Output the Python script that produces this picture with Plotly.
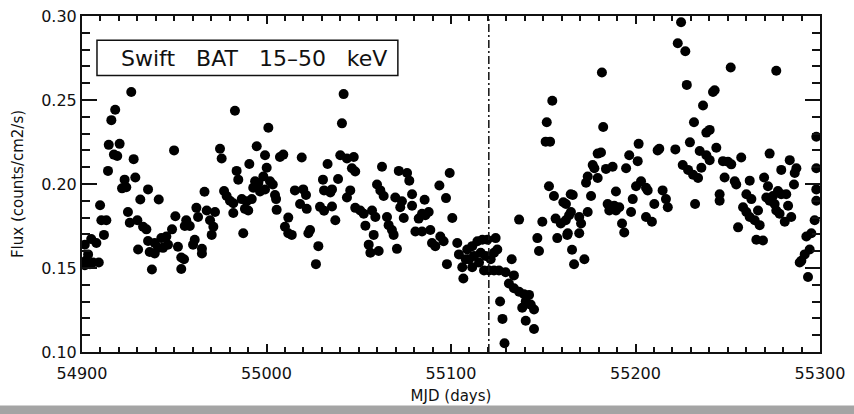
import plotly.graph_objects as go

# Swift/BAT 15-50 keV light curve (MJD, counts/cm2/s)
mjd = [
    54901.5, 54903.3, 54902.2, 54901.6, 54905.0, 54907.8, 54906.0, 54909.1, 54904.3, 54909.8,
    54910.5, 54913.2, 54911.9, 54914.1, 54914.5, 54915.9, 54918.0, 54917.3, 54919.1, 54920.4,
    54921.7, 54924.0, 54923.1, 54924.9, 54925.9, 54926.7, 54928.0, 54928.9, 54930.0, 54930.4,
    54931.6, 54933.1, 54934.9, 54935.8, 54935.8, 54936.7, 54937.9, 54939.4, 54939.4, 54941.2,
    54941.6, 54943.0, 54943.9, 54945.7, 54946.6, 54948.8, 54949.9, 54950.6, 54952.0, 54953.8,
    54955.3, 54953.8, 54955.7, 54956.5, 54958.4, 54960.2, 54961.1, 54962.0, 54962.9, 54965.0,
    54965.0, 54966.4,
    54967.6, 54969.4, 54970.3, 54971.2, 54972.1, 54974.8, 54975.7, 54977.0, 54978.4, 54980.2,
    54982.0, 54982.0, 54982.9, 54983.8, 54984.7, 54986.6, 54987.4, 54988.3, 54989.3, 54990.1,
    54990.7, 54992.0, 54992.8, 54993.8, 54995.6, 54994.7, 54996.5, 54998.3, 54999.2, 54999.2,
    55000.1, 55001.0, 55001.9, 55003.4, 55004.6, 55005.2, 55005.5, 55007.3, 55009.1, 55010.0,
    55011.8, 55011.8, 55013.7, 55015.4, 55018.2, 55019.1, 55019.9, 55021.4, 55021.8, 55022.7,
    55023.6, 55026.8, 55028.1, 55029.0, 55031.2, 55030.6, 55031.2, 55033.1,
    55035.5, 55034.6, 55035.5, 55037.3, 55038.8, 55040.0, 55043.6, 55047.3, 55040.9, 55041.8,
    55043.6, 55045.4, 55046.3, 55048.1, 55048.1, 55050.8, 55052.7, 55053.6, 55055.4, 55056.3,
    55057.2, 55059.0, 55058.1, 55059.9, 55061.7, 55063.5, 55060.8, 55062.6, 55065.3, 55066.2,
    55068.0, 55068.9, 55069.8, 55070.7, 55071.7, 55076.2, 55077.4, 55072.5, 55073.4, 55074.4,
    55078.9, 55078.9, 55080.7, 55084.3, 55088.8, 55082.5, 55084.3, 55086.1, 55087.9, 55085.7,
    55089.7, 55091.5, 55093.7, 55094.2, 55096.0, 55097.3, 55097.8, 55099.3,
    55100.7, 55103.4, 55104.3, 55106.1, 55106.7, 55108.0, 55108.8, 55109.8, 55111.5, 55111.5,
    55112.5, 55114.3, 55115.2, 55116.1, 55117.0, 55117.9, 55118.8, 55119.7, 55120.6, 55121.5,
    55123.3, 55123.3, 55124.2, 55125.1, 55126.0, 55126.6, 55127.9, 55129.0, 55129.6, 55131.4,
    55132.9, 55134.1, 55134.1, 55136.9, 55136.9, 55138.6, 55139.6, 55140.5, 55140.5, 55142.3,
    55143.2, 55145.0, 55145.0, 55146.8, 55147.7, 55149.5, 55151.3, 55153.7, 55151.9, 55153.1,
    55154.9, 55155.8, 55156.7, 55157.6, 55159.5, 55160.9, 55162.2, 55163.0, 55164.0, 55164.9,
    55165.6, 55166.7,
    55162.3, 55163.3, 55165.0, 55166.0, 55169.5, 55169.5, 55170.5, 55172.3, 55173.2, 55174.1,
    55174.1, 55175.9, 55176.8, 55177.7, 55179.5, 55181.3, 55179.5, 55181.8, 55182.5, 55184.0,
    55184.9, 55185.8, 55186.7, 55188.5, 55189.4, 55191.2, 55187.6, 55189.4, 55192.7, 55193.9,
    55194.9, 55196.6, 55197.6, 55198.5, 55200.3, 55203.0, 55205.7, 55206.6, 55201.2, 55201.7,
    55205.7, 55208.9, 55210.2, 55212.0, 55212.9, 55214.7, 55216.5, 55217.5, 55221.6, 55222.9,
    55224.7, 55225.6, 55227.0, 55227.8, 55229.5, 55228.5, 55231.2, 55231.7, 55232.3,
    55233.9, 55234.8, 55235.7, 55236.6, 55238.4, 55238.4, 55240.2, 55240.2, 55242.0, 55242.9,
    55243.8, 55245.6, 55245.6, 55247.4, 55250.1, 55251.9, 55248.3, 55251.6, 55253.8, 55254.6,
    55255.6, 55257.3, 55258.3, 55260.1, 55261.9, 55264.6, 55267.3, 55260.1, 55262.8, 55261.9,
    55265.5, 55269.1, 55266.4, 55269.7, 55271.8, 55270.9, 55272.7, 55274.5, 55275.4, 55277.2,
    55279.0, 55281.7, 55272.7, 55276.3, 55276.3, 55278.1, 55280.9, 55282.7, 55284.4, 55279.0,
    55283.6, 55285.9, 55286.3, 55287.2, 55289.0, 55289.9, 55291.7, 55292.6, 55294.4, 55295.3,
    55297.1, 55293.5, 55298.0, 55298.0, 55298.0, 55298.0,
]

flux = [
    0.1639, 0.1581, 0.1545, 0.1516, 0.1672, 0.1649, 0.1533, 0.1533, 0.1522, 0.1874,
    0.1784, 0.1784, 0.1697, 0.2078, 0.2233, 0.2380, 0.2442, 0.2175, 0.2167, 0.2239,
    0.1974, 0.1981, 0.2026, 0.1833, 0.1769, 0.2548, 0.2148, 0.2039, 0.1784, 0.1610,
    0.1908, 0.1746, 0.1730, 0.1968, 0.1661, 0.1595, 0.1491, 0.1649, 0.1587, 0.1620,
    0.1908, 0.1678, 0.1620, 0.1688, 0.1639, 0.1730, 0.2200, 0.1808, 0.1626, 0.1562,
    0.1552, 0.1494, 0.1750, 0.1784, 0.1750, 0.1639, 0.1668, 0.1858, 0.1804, 0.1614,
    0.1586, 0.1954,
    0.1842, 0.1784, 0.1697, 0.1746, 0.1833, 0.2210, 0.2152, 0.1958, 0.1929, 0.1900,
    0.1885, 0.1827, 0.2436, 0.2078, 0.2026, 0.1910, 0.1707, 0.1852, 0.1897, 0.1842,
    0.2119, 0.1910, 0.1978, 0.2016, 0.2007, 0.2225, 0.1955, 0.2045, 0.2171, 0.1968,
    0.2097, 0.2335, 0.2016, 0.1997, 0.1935, 0.1910, 0.1846, 0.2161, 0.2175, 0.1746,
    0.1800, 0.1707, 0.1697, 0.1962, 0.1881, 0.2158, 0.1968, 0.1935, 0.1852, 0.1707,
    0.1726, 0.1523, 0.1630, 0.1864, 0.1841, 0.2026, 0.1962, 0.2119,
    0.1866, 0.1949, 0.1968, 0.1784, 0.2030, 0.2171, 0.2152, 0.2161, 0.2361, 0.2535,
    0.1920, 0.1962, 0.2094, 0.2074, 0.1858, 0.1842, 0.1823, 0.1752, 0.1639, 0.1591,
    0.1842, 0.1804, 0.1697, 0.1997, 0.1962, 0.1929, 0.1601, 0.2103, 0.1804, 0.1755,
    0.1726, 0.1697, 0.1920, 0.1614, 0.2078, 0.2065, 0.2020, 0.1862, 0.1897, 0.1798,
    0.1939, 0.1871, 0.1717, 0.1717, 0.1726, 0.1794, 0.1823, 0.1814, 0.1833, 0.1906,
    0.1649, 0.1630, 0.1991, 0.1688, 0.1659, 0.1916, 0.1523, 0.2065,
    0.1798, 0.1649, 0.1581, 0.1504, 0.1437, 0.1552, 0.1610, 0.1552, 0.1630, 0.1504,
    0.1572, 0.1659, 0.1533, 0.1591, 0.1668, 0.1485, 0.1572, 0.1668, 0.1485, 0.1552,
    0.1591, 0.1485, 0.1678, 0.1610, 0.1485, 0.1301, 0.1197, 0.1052, 0.1475, 0.1408,
    0.1552, 0.1456, 0.1379, 0.1788, 0.1359, 0.1263, 0.1344, 0.1301, 0.1186, 0.1340,
    0.1282, 0.1253, 0.1137, 0.1678, 0.1601, 0.1775, 0.2252, 0.2252, 0.2368, 0.1987,
    0.2496, 0.1929, 0.1794, 0.1678, 0.1765, 0.1891, 0.1784, 0.1697, 0.1814, 0.1939,
    0.1609, 0.1522,
    0.1881, 0.1707, 0.1833, 0.1935, 0.1804, 0.1707, 0.1765, 0.1552, 0.2007, 0.2045,
    0.1833, 0.1929, 0.2113, 0.2094, 0.2181, 0.2188, 0.2036, 0.2664, 0.2339, 0.2090,
    0.1881, 0.1842, 0.1862, 0.1871, 0.1842, 0.1862, 0.2103, 0.1955, 0.1765, 0.1711,
    0.2094, 0.2171, 0.1833, 0.1910, 0.1987, 0.2016, 0.1978, 0.1962, 0.2136, 0.2239,
    0.1804, 0.1775, 0.1881, 0.2200, 0.2210, 0.1962, 0.1910, 0.1862, 0.2206, 0.2838,
    0.2963, 0.2113, 0.2790, 0.2590, 0.2248, 0.2084, 0.2055, 0.2368, 0.1881,
    0.2036, 0.2196, 0.2097, 0.2467, 0.2171, 0.2306, 0.2322, 0.2142, 0.2548, 0.2558,
    0.2216, 0.1939, 0.1900, 0.2136, 0.2132, 0.2117, 0.2039, 0.2693, 0.2016, 0.1997,
    0.1742, 0.2158, 0.1862, 0.1833, 0.1804, 0.1784, 0.1755, 0.1939, 0.1910, 0.2020,
    0.1668, 0.1664, 0.1842, 0.2039, 0.1987, 0.1920, 0.1900, 0.1929, 0.1881, 0.1958,
    0.1939, 0.1939, 0.2181, 0.2674, 0.1842, 0.1823, 0.1775, 0.1871, 0.1804, 0.2084,
    0.2142, 0.1997, 0.2065, 0.2094, 0.1533, 0.1543, 0.1581, 0.1688, 0.1610, 0.1707,
    0.1784, 0.1446, 0.2281, 0.2094, 0.1968, 0.1900,
]

event_mjd = 55120.5          # epoch marked with the dash-dot line
x_range = [54900, 55300]
y_range = [0.10, 0.30]
x_ticks = [54900, 55000, 55100, 55200, 55300]
y_ticks = [0.10, 0.15, 0.20, 0.25, 0.30]
band_label = "Swift\u00a0\u00a0\u00a0BAT\u00a0\u00a0\u00a015\u201350\u00a0\u00a0\u00a0keV"

FONT = "DejaVu Sans"
INK = "#111111"

fig = go.Figure()

fig.add_trace(go.Scatter(
    x=mjd, y=flux, mode="markers",
    marker=dict(size=10, color="black", line=dict(width=0)),
    showlegend=False, hoverinfo="x+y",
))

fig.add_trace(go.Scatter(
    x=[event_mjd, event_mjd], y=y_range, mode="lines",
    line=dict(color=INK, width=1.5, dash="8px,3px,2px,3px"),
    showlegend=False, hoverinfo="skip",
))

axis_common = dict(
    showgrid=False, zeroline=False, showline=True, linewidth=2, linecolor=INK,
    mirror="ticks", ticks="inside", tickcolor=INK, tickwidth=1.5,
    tickfont=dict(family=FONT, size=16, color=INK),
    ticklabeloverflow="allow",
)

fig.update_xaxes(
    range=x_range, tickvals=x_ticks, tickformat="d", ticklen=8,
    ticklabelstandoff=6,
    minor=dict(dtick=10, ticklen=5, ticks="inside", tickcolor=INK, tickwidth=1.5),
    title=dict(text="MJD (days)", font=dict(family=FONT, size=15, color=INK), standoff=8),
    **axis_common,
)
fig.update_yaxes(
    range=y_range, tickvals=y_ticks, tickformat=".2f", ticklen=15,
    minor=dict(dtick=0.01, ticklen=8, ticks="inside", tickcolor=INK, tickwidth=1.5),
    title=dict(text="Flux (counts/cm2/s)", font=dict(family=FONT, size=15, color=INK), standoff=14),
    **axis_common,
)

# label box in the upper-left corner
fig.add_shape(type="rect", xref="paper", yref="paper",
              x0=0.0203, x1=0.428, y0=0.823, y1=0.9275,
              line=dict(color=INK, width=1.5), fillcolor="white")
fig.add_annotation(xref="paper", yref="paper", x=0.233, y=0.875,
                   text=band_label, showarrow=False,
                   font=dict(family=FONT, size=22, color=INK),
                   xanchor="center", yanchor="middle")

# grey strip along the bottom edge of the page
fig.add_shape(type="rect", xref="paper", yref="paper",
              x0=-0.12, x1=1.06, y0=-0.1594, y1=-0.19,
              line=dict(width=0), fillcolor="#a4a4a4", layer="below")

fig.update_layout(
    width=854, height=414,
    margin=dict(l=82, r=34, t=7, b=62),
    paper_bgcolor="white", plot_bgcolor="white",
)

fig.write_html("out.html")
